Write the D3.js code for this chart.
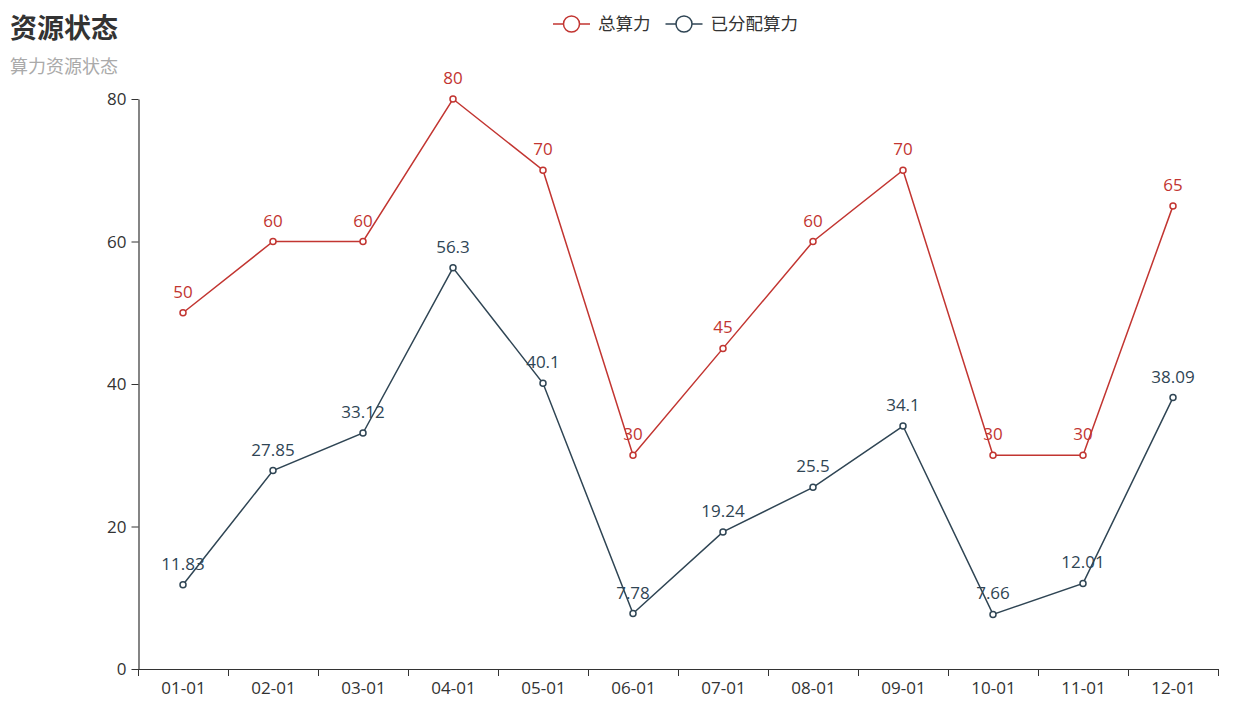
<!DOCTYPE html>
<html>
<head>
<meta charset="utf-8">
<script src="https://cdn.jsdelivr.net/npm/d3@7/dist/d3.min.js"></script>
<style>
  body { margin: 0; background: #fff; }
  text { font-family: "Open Sans", "Noto Sans CJK SC", sans-serif; }
</style>
</head>
<body>
<div id="chart"></div>
<script>
// data
const months = ['01-01', '02-01', '03-01', '04-01', '05-01', '06-01',
    '07-01', '08-01', '09-01', '10-01', '11-01', '12-01'];
const totalPower = [50, 60, 60, 80, 70, 30, 45, 60, 70, 30, 30, 65];
const allocatedPower = [11.83, 27.85, 33.12, 56.3, 40.1, 7.78, 19.24, 25.5, 34.1, 7.66, 12.01, 38.09];
const yTicks = [0, 20, 40, 60, 80];
const seriesNames = ['总算力', '已分配算力'];
const seriesColors = ['#c23531', '#2f4554'];

const width = 1247, height = 720;
const margin = { top: 99, right: 29, bottom: 51, left: 138 };
const font = '"Open Sans", "Noto Sans CJK SC", sans-serif';

const svg = d3.select('#chart').append('svg')
    .attr('width', width)
    .attr('height', height);

// title
svg.append('text')
    .attr('x', 10).attr('y', 38)
    .attr('font-size', 27).attr('font-weight', 'bold')
    .attr('fill', '#333')
    .style('font-family', '"Noto Sans CJK SC", sans-serif')
    .text('资源状态');

svg.append('text')
    .attr('x', 10).attr('y', 73)
    .attr('font-size', 18)
    .attr('fill', '#aaa')
    .style('font-family', '"Noto Sans CJK SC", sans-serif')
    .text('算力资源状态');

// scales
const x = d3.scaleBand()
    .domain(months)
    .range([margin.left, width - margin.right]);

const y = d3.scaleLinear()
    .domain([0, 80])
    .range([height - margin.bottom, margin.top]);

// axes
const xAxis = svg.append('g')
    .attr('transform', `translate(0.5, ${height - margin.bottom})`)
    .call(d3.axisBottom(x).tickSize(0).tickPadding(13));

xAxis.selectAll('.tick')
    .append('line')
    .attr('x1', -x.bandwidth() / 2).attr('x2', -x.bandwidth() / 2)
    .attr('y1', 0).attr('y2', 7)
    .attr('stroke', '#333');
xAxis.append('line')
    .attr('x1', x.range()[1]).attr('x2', x.range()[1])
    .attr('y1', 0).attr('y2', 7)
    .attr('stroke', '#333');

const yAxis = svg.append('g')
    .attr('transform', `translate(${margin.left + 0.5}, 0)`)
    .call(d3.axisLeft(y).tickValues(yTicks).tickSize(7).tickPadding(5).tickSizeOuter(0));

[xAxis, yAxis].forEach(a => {
    a.select('.domain').attr('stroke', '#333').attr('stroke-width', 1.2);
    a.selectAll('.tick line').attr('stroke', '#333');
    a.selectAll('.tick text')
        .attr('fill', '#333')
        .attr('font-size', 17)
        .style('font-family', font);
});
xAxis.selectAll('.tick text').attr('dy', '0.71em');
yAxis.selectAll('.tick text').attr('dy', '0.35em');

// series
const cx = d => x(d) + x.bandwidth() / 2;
const line = d3.line()
    .x((d, i) => cx(months[i]))
    .y(d => y(d));

[totalPower, allocatedPower].forEach((values, s) => {
    const g = svg.append('g');
    const color = seriesColors[s];

    g.append('path')
        .datum(values)
        .attr('fill', 'none')
        .attr('stroke', color)
        .attr('stroke-width', 1.5)
        .attr('d', line);

    g.selectAll('circle')
        .data(values)
        .join('circle')
        .attr('cx', (d, i) => cx(months[i]))
        .attr('cy', d => y(d))
        .attr('r', 3)
        .attr('fill', '#fff')
        .attr('stroke', color)
        .attr('stroke-width', 1.5);

    g.selectAll('text')
        .data(values)
        .join('text')
        .attr('x', (d, i) => cx(months[i]))
        .attr('y', d => y(d) - 15)
        .attr('text-anchor', 'middle')
        .attr('font-size', 17)
        .attr('fill', color)
        .text(d => d);
});

// legend
const legend = svg.append('g').attr('transform', 'translate(0, 24)');
const items = legend.selectAll('g')
    .data(seriesNames)
    .join('g');

items.append('line')
    .attr('x1', 0).attr('x2', 37)
    .attr('stroke', (d, i) => seriesColors[i])
    .attr('stroke-width', 1.5);
items.append('circle')
    .attr('cx', 18.5).attr('r', 8)
    .attr('fill', '#fff')
    .attr('stroke', (d, i) => seriesColors[i])
    .attr('stroke-width', 1.5);
items.append('text')
    .attr('x', 45).attr('dy', '0.35em')
    .attr('font-size', 17.5)
    .attr('fill', '#333')
    .style('font-family', '"Noto Sans CJK SC", sans-serif')
    .text(d => d);

let offset = 0;
const itemWidths = [];
items.each(function () { itemWidths.push(this.getBBox().width); });
const start = 553;
items.attr('transform', (d, i) => {
    const tx = start + offset;
    offset += itemWidths[i] + 15;
    return `translate(${tx}, 0)`;
});
</script>
</body>
</html>
